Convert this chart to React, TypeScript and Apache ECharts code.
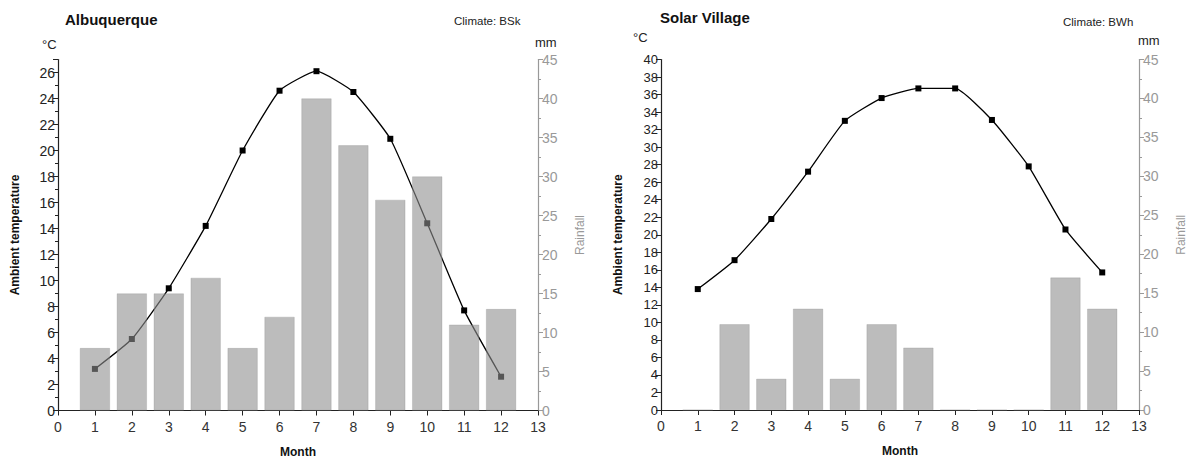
import React, { useEffect, useRef } from "react";
import * as echarts from "echarts";

const months = [1, 2, 3, 4, 5, 6, 7, 8, 9, 10, 11, 12];
const albTemp = [3.2, 5.5, 9.4, 14.2, 20.0, 24.6, 26.1, 24.5, 20.9, 14.4, 7.7, 2.6];
const albRain = [8, 15, 15, 17, 8, 12, 40, 34, 27, 30, 11, 13];
const solTemp = [13.8, 17.1, 21.8, 27.2, 33.0, 35.6, 36.7, 36.7, 33.1, 27.8, 20.6, 15.7];
const solRain = [0, 11, 4, 13, 4, 11, 8, 0, 0, 0, 17, 13];

const FONT = "Liberation Sans, Arial, sans-serif";
const BAR_COLOR = "rgba(144,144,144,0.6)";

function pairs(vals: number[]) {
  return months.map((m, i) => [m, vals[i]]);
}

function xAxis(gridIndex: number) {
  return {
    gridIndex,
    type: "value",
    min: 0,
    max: 13,
    interval: 1,
    name: "Month",
    nameLocation: "middle",
    nameGap: 35,
    nameTextStyle: { fontFamily: FONT, fontWeight: "bold", fontSize: 12, color: "#111" },
    axisLine: { show: true, onZero: false, lineStyle: { color: "#222", width: 1.2 } },
    axisTick: { show: true, inside: false, length: 5, lineStyle: { color: "#222" } },
    axisLabel: { fontFamily: FONT, fontSize: 14, color: "#333", margin: 9 },
    splitLine: { show: false },
  };
}

function tempAxis(gridIndex: number, max: number, minor: boolean, fontSize: number) {
  return {
    gridIndex,
    type: "value",
    position: "left",
    min: 0,
    max,
    interval: 2,
    name: "Ambient temperature",
    nameLocation: "middle",
    nameGap: 37,
    nameRotate: 90,
    nameTextStyle: { fontFamily: FONT, fontWeight: "bold", fontSize: 12, color: "#111" },
    axisLine: { show: true, lineStyle: { color: "#222", width: 1.2 } },
    axisTick: { show: true, inside: false, length: 5, lineStyle: { color: "#222" } },
    minorTick: { show: minor, splitNumber: 2, length: 3, lineStyle: { color: "#222" } },
    axisLabel: { fontFamily: FONT, fontSize, color: "#222", margin: 3, showMaxLabel: max % 2 === 0 },
    splitLine: { show: false },
  };
}

function rainAxis(gridIndex: number) {
  return {
    gridIndex,
    type: "value",
    position: "right",
    min: 0,
    max: 45,
    interval: 5,
    name: "Rainfall",
    nameLocation: "middle",
    nameGap: 36,
    nameRotate: 90,
    nameTextStyle: { fontFamily: FONT, fontSize: 12, color: "#999" },
    axisLine: { show: true, lineStyle: { color: "#999", width: 1.2 } },
    axisTick: { show: true, inside: false, length: 5, lineStyle: { color: "#999" } },
    minorTick: { show: true, splitNumber: 2, length: 3, lineStyle: { color: "#999" } },
    axisLabel: { fontFamily: FONT, fontSize: 14, color: "#999", margin: 4 },
    splitLine: { show: false },
  };
}

function barSeries(xi: number, yi: number, data: number[]) {
  return {
    type: "bar",
    xAxisIndex: xi,
    yAxisIndex: yi,
    data: pairs(data),
    barWidth: 30,
    z: 3,
    itemStyle: { color: BAR_COLOR, borderColor: "rgba(130,130,130,0.5)", borderWidth: 0.5 },
  };
}

function lineSeries(xi: number, yi: number, data: number[]) {
  return {
    type: "line",
    xAxisIndex: xi,
    yAxisIndex: yi,
    data: pairs(data),
    smooth: 0.15,
    symbol: "rect",
    symbolSize: 6,
    z: 2,
    lineStyle: { color: "#000", width: 1.3 },
    itemStyle: { color: "#000" },
  };
}

function txt(left: number, top: number, text: string, fontSize: number, bold: boolean, fill = "#111") {
  return {
    type: "text",
    left,
    top,
    style: { text, fontFamily: FONT, fontSize, fontWeight: bold ? "bold" : "normal", fill },
  };
}

export default function App() {
  const ref = useRef<HTMLDivElement>(null);
  useEffect(() => {
    if (!ref.current) return;
    const chart = echarts.init(ref.current, undefined, { renderer: "svg" });
    chart.setOption({
      animation: false,
      backgroundColor: "#fff",
      grid: [
        { left: 58, top: 59.5, width: 480, height: 351, outerBoundsMode: "none", containLabel: false },
        { left: 661, top: 59.5, width: 478, height: 350.5, outerBoundsMode: "none", containLabel: false },
      ],
      xAxis: [xAxis(0), xAxis(1)],
      yAxis: [tempAxis(0, 27, true, 14), rainAxis(0), tempAxis(1, 40, false, 13), rainAxis(1)],
      series: [
        lineSeries(0, 0, albTemp),
        barSeries(0, 1, albRain),
        lineSeries(1, 2, solTemp),
        barSeries(1, 3, solRain),
      ],
      graphic: [
        txt(65, 12, "Albuquerque", 15, true),
        txt(454, 15, "Climate: BSk", 11.5, false, "#222"),
        txt(42, 38, "°C", 13, false, "#222"),
        txt(535, 36, "mm", 13, false, "#222"),
        txt(660, 10, "Solar Village", 15, true),
        txt(1063, 16, "Climate: BWh", 11.5, false, "#222"),
        txt(633, 31, "°C", 13, false, "#222"),
        txt(1138, 34, "mm", 13, false, "#222"),
      ],
    });
    return () => chart.dispose();
  }, []);
  return (
    <div
      ref={ref}
      style={{ position: "absolute", left: 0, top: 0, width: 1190, height: 461 }}
    />
  );
}
